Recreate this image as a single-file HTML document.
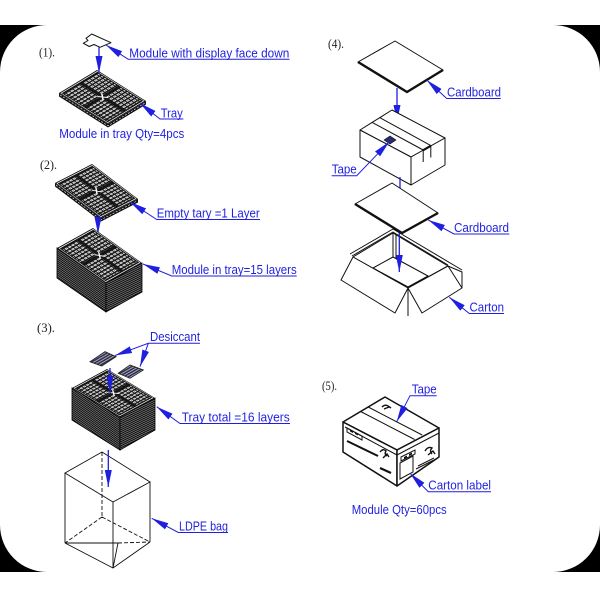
<!DOCTYPE html>
<html><head><meta charset="utf-8">
<style>
html,body{margin:0;padding:0;background:#fff;}
svg{display:block;}
.bl{font-family:"Liberation Sans",Arial,sans-serif;font-size:12.5px;fill:#1f1fe0;}
.nb{font-family:"Liberation Serif",serif;font-size:13px;fill:#222;}
.ld{stroke:#1f1fe0;stroke-width:1;fill:none;}
.fa{stroke:#1f1fe0;stroke-width:1.3;fill:none;}
.ln{stroke:#111;stroke-width:1;fill:#fff;stroke-linejoin:round;}
</style></head><body>
<svg width="600" height="600" viewBox="0 0 600 600" xmlns="http://www.w3.org/2000/svg">
<defs>
<marker id="ah" viewBox="0 -4 18 8" refX="17" refY="0" markerWidth="18" markerHeight="8" markerUnits="userSpaceOnUse" orient="auto-start-reverse">
<path d="M0,-3.5 L17,0 L0,3.5 Z" fill="#1f1fe0"/>
</marker>
<pattern id="cell" width="9" height="6.5" patternUnits="userSpaceOnUse">
<rect width="9" height="6.5" fill="#151515"/>
<rect x="1.4" y="1.3" width="6.2" height="3.6" fill="#fff"/>
<rect x="3.5" y="2.4" width="2" height="1.4" fill="#333"/>
</pattern>
<g id="tt">
<rect width="100" height="100" fill="#151515"/>
<rect x="2.5" y="2.5" width="95" height="95" fill="none" stroke="#fff" stroke-width="1.3"/>
<rect x="6" y="6" width="41" height="41" fill="url(#cell)"/>
<rect x="53" y="6" width="41" height="41" fill="url(#cell)"/>
<rect x="6" y="53" width="41" height="41" fill="url(#cell)"/>
<rect x="53" y="53" width="41" height="41" fill="url(#cell)"/>
<path d="M44,44 L56,56 M56,44 L44,56" stroke="#fff" stroke-width="2.5"/>
</g>
<pattern id="pl" width="8" height="2" patternUnits="userSpaceOnUse" patternTransform="skewY(35)">
<rect width="8" height="2" fill="#0d0d0d"/><rect y="1.4" width="8" height="0.5" fill="#c8c8c8"/>
</pattern>
<pattern id="pr" width="8" height="2" patternUnits="userSpaceOnUse" patternTransform="skewY(-26)">
<rect width="8" height="2" fill="#0d0d0d"/><rect y="1.4" width="8" height="0.5" fill="#c8c8c8"/>
</pattern>
<pattern id="hd" width="2.4" height="2.4" patternUnits="userSpaceOnUse" patternTransform="rotate(60)">
<rect width="2.4" height="2.4" fill="#2a2a44"/><rect width="1" height="2.4" fill="#a8a8c0"/>
</pattern>
</defs>

<!-- background frame -->
<rect x="0" y="25" width="600" height="547" fill="#000"/>
<rect x="0" y="25" width="600" height="547" rx="47" ry="47" fill="#fff"/>

<!-- ===== (1) ===== -->
<text class="nb" x="39" y="56.5" textLength="16" lengthAdjust="spacingAndGlyphs">(1).</text>
<path class="ln" d="M86,38.3 L91.7,34 L111,42.7 L100,47.3 L94,44.5 L89.3,46.5 L83.3,43.3 L88,40.5 Z"/>
<polygon points="59,93 59,96.5 108,127.5 146,104.5 146,101 108,124" fill="#111"/>
<path d="M60,95 L108,125.8 L145,103" stroke="#fff" stroke-width="0.6" fill="none" stroke-dasharray="2,1.5"/>
<use href="#tt" transform="matrix(0.38,-0.23,0.49,0.31,59,93)"/>
<path class="fa" d="M99,47 V73" marker-end="url(#ah)"/>
<path class="ld" d="M106,45 L128.3,59.3 H289.5" marker-start="url(#ah)"/>
<text class="bl" x="129.3" y="57.3" textLength="160" lengthAdjust="spacingAndGlyphs">Module with display face down</text>
<path class="ld" d="M140,103.3 L160,119 H183.3" marker-start="url(#ah)"/>
<text class="bl" x="160.7" y="117.3" textLength="22" lengthAdjust="spacingAndGlyphs">Tray</text>
<text class="bl" x="59.3" y="138" textLength="125" lengthAdjust="spacingAndGlyphs">Module in tray Qty=4pcs</text>

<!-- ===== (2) ===== -->
<text class="nb" x="40" y="169" textLength="17" lengthAdjust="spacingAndGlyphs">(2).</text>
<polygon points="55,183 55,186.5 101,221.5 138,202.5 138,199 101,218" fill="#111"/>
<path d="M56,185 L101,219.8 L137,201" stroke="#fff" stroke-width="0.6" fill="none" stroke-dasharray="2,1.5"/>
<use href="#tt" transform="matrix(0.37,-0.19,0.46,0.35,55,183)"/>
<path class="fa" d="M98,218 V234" marker-end="url(#ah)"/>
<polygon points="57,248 106,283 106,312 57,278" fill="url(#pl)" stroke="#000" stroke-width="0.8"/>
<polygon points="106,283 142,263 142,292 106,312" fill="url(#pr)" stroke="#000" stroke-width="0.8"/>
<use href="#tt" transform="matrix(0.36,-0.2,0.49,0.35,57,248)"/>
<path class="ld" d="M130,202 L156.7,219.5 H260" marker-start="url(#ah)"/>
<text class="bl" x="156.7" y="217.5" textLength="103" lengthAdjust="spacingAndGlyphs">Empty tary =1 Layer</text>
<path class="ld" d="M143,264 L171.7,276 H296.7" marker-start="url(#ah)"/>
<text class="bl" x="171.7" y="274" textLength="125" lengthAdjust="spacingAndGlyphs">Module in tray=15 layers</text>

<!-- ===== (3) ===== -->
<text class="nb" x="37" y="332" textLength="18" lengthAdjust="spacingAndGlyphs">(3).</text>
<polygon points="72,388 120,417 120,450 72,420" fill="url(#pl)" stroke="#000" stroke-width="0.8"/>
<polygon points="120,417 155,398 155,430 120,450" fill="url(#pr)" stroke="#000" stroke-width="0.8"/>
<use href="#tt" transform="matrix(0.35,-0.19,0.48,0.29,72,388)"/>
<polygon points="90,361.7 105,351.7 116,356.7 101.7,366" fill="url(#hd)" stroke="#222" stroke-width="0.9"/>
<polygon points="118.3,373.3 130,365 143.3,370 130,378.3" fill="url(#hd)" stroke="#222" stroke-width="0.9"/>
<path class="fa" d="M110,368 V393" marker-end="url(#ah)"/>
<path class="ld" d="M115,355.5 L148.3,343.3 H200" marker-start="url(#ah)"/>
<path class="ld" d="M140,366.7 L148.3,343.3" marker-start="url(#ah)"/>
<text class="bl" x="150" y="341" textLength="50" lengthAdjust="spacingAndGlyphs">Desiccant</text>
<path class="ld" d="M156.7,406.7 L180,423.5 H290" marker-start="url(#ah)"/>
<text class="bl" x="181.7" y="421.3" textLength="108" lengthAdjust="spacingAndGlyphs">Tray  total =16 layers</text>
<!-- bag -->
<g stroke="#111" stroke-width="0.9" fill="none">
<polygon points="65,473 102,452 150,482 113,502"/>
<path d="M65,473 V543 M113,502 V568 M150,482 V542 M65,543 L113,568 L150,542"/>
<path d="M65,543 L118,543 L113,568"/>
<path d="M102,452 V517 M102,517 L65,543 M102,517 L150,542 M118,543 L150,542" stroke-dasharray="4,2"/>
</g>
<path class="fa" d="M108.3,450 V487" marker-end="url(#ah)"/>
<path class="ld" d="M151.7,518.3 L178.3,532.5 H228" marker-start="url(#ah)"/>
<text class="bl" x="179" y="530.5" textLength="49" lengthAdjust="spacingAndGlyphs">LDPE bag</text>

<!-- ===== (4) ===== -->
<text class="nb" x="328" y="48" textLength="16" lengthAdjust="spacingAndGlyphs">(4).</text>
<!-- cardboard 1 -->
<polygon class="ln" points="358,62 395,41 443,70 407,92"/>
<path d="M358,62 L407,92 L443,70" stroke="#111" stroke-width="2.4" fill="none"/>
<path class="fa" d="M397,88 V122" marker-end="url(#ah)"/>
<path class="ld" d="M426.7,80 L446.7,98.5 H500.7" marker-start="url(#ah)"/>
<text class="bl" x="447" y="96.5" textLength="54" lengthAdjust="spacingAndGlyphs">Cardboard</text>
<!-- box with tape -->
<polygon class="ln" points="360,130 392,110 445,138 411,157"/>
<polygon class="ln" points="360,130 411,157 411,185 360,157"/>
<polygon class="ln" points="411,157 445,138 445,165 411,185"/>
<path d="M372.2,122.4 L423.2,150 M379.8,117.6 L430.8,145.6 M423.2,150 V162 M430.8,145.6 V157.5" stroke="#111" stroke-width="1" fill="none"/>
<path d="M423.2,150.2 L430.8,145.8" stroke="#111" stroke-width="2.2"/>
<polygon points="384,140 390,136 396,140 390,144" fill="#2a2a70" stroke="#111" stroke-width="0.6"/>
<path class="ld" d="M389.3,141.7 L356.7,175.7 H331.7" marker-start="url(#ah)"/>
<text class="bl" x="331.7" y="173.5" textLength="25" lengthAdjust="spacingAndGlyphs">Tape</text>
<path class="fa" d="M400,177 V210" marker-end="url(#ah)"/>
<!-- cardboard 2 -->
<polygon class="ln" points="355,204 392,183 438,213 402,233"/>
<path d="M355,204 L402,233 L438,213" stroke="#111" stroke-width="2.4" fill="none"/>
<path class="ld" d="M428.3,220 L454,234 H509.3" marker-start="url(#ah)"/>
<text class="bl" x="454" y="232" textLength="55" lengthAdjust="spacingAndGlyphs">Cardboard</text>
<!-- carton -->
<g stroke="#111" stroke-width="1" fill="#fff" stroke-linejoin="round">
<polygon points="353,257 393,233 448,266 408,288"/>
<polygon points="373,268 393,257 428,276 408,287" fill="none"/>
<path d="M393,233 V257 M396,235 V259" fill="none"/>
<path d="M350,254 L393,229 L462,270 M352,256 L393,232 L448,265" fill="none"/>
<polygon points="353,257 341,280 395,313 408,288"/>
<polygon points="408,288 422,313 462,288 448,266"/>
<path d="M448,266 L462,272 V288 M408,288 V316" fill="none"/>
</g>
<path class="fa" d="M399.3,233 V272" marker-end="url(#ah)"/>
<path class="ld" d="M449.3,297.3 L469.3,313.5 H504" marker-start="url(#ah)"/>
<text class="bl" x="469.5" y="311.3" textLength="34.5" lengthAdjust="spacingAndGlyphs">Carton</text>

<!-- ===== (5) ===== -->
<text class="nb" x="322" y="390" textLength="15" lengthAdjust="spacingAndGlyphs">(5).</text>
<g stroke="#111" stroke-width="1.5" fill="#fff" stroke-linejoin="round">
<polygon points="343,422 385,397 439,428 397,450"/>
<polygon points="343,422 397,450 397,486 343,452"/>
<polygon points="397,450 439,428 439,457 397,486"/>
</g>
<g stroke="#111" stroke-width="1" fill="none">
<path d="M345,427 L397,455 L439,433"/>
<path d="M360.6,411.5 L414.6,439.5 M368.2,407 L422.2,435"/>
<polygon points="347,428 362,436 362,440 347,432"/>
<polygon points="401,457 415,450 415,454 401,461"/>
<polygon points="400,463 413,456 413,472 400,479"/>
</g>
<g fill="#111">
<polygon points="350,429.5 353,431 353,433 350,431.5"/>
<polygon points="355,432 358,433.5 358,435.5 355,434"/>
<polygon points="404,457 407,455.5 407,457.5 404,459"/>
<polygon points="409,454 412,452.5 412,454.5 409,456"/>
</g>
<path d="M347,441 L378,456" stroke="#111" stroke-width="2"/>
<path d="M380,468 L391,473" stroke="#111" stroke-width="2.2"/>
<path d="M416,469 L436,459 M418,466 L434,458" stroke="#111" stroke-width="1"/>
<path d="M380,452 q3,-4 6,-1 q-2,3 1,5 M383,458 l4,-4 l2,3" stroke="#111" stroke-width="1.4" fill="none"/>
<path d="M425,451 q3,-5 7,-3 q-3,3 0,6 M428,455 l5,-4 l2,3" stroke="#111" stroke-width="1.4" fill="none"/>
<path d="M382,407 q3,-3 6,-1 l3,2 M384,409 l5,-2" stroke="#111" stroke-width="1.4" fill="none"/>
<path class="ld" d="M396.7,421.7 L410,395.7 H436.7" marker-start="url(#ah)"/>
<text class="bl" x="411.7" y="393.3" textLength="25" lengthAdjust="spacingAndGlyphs">Tape</text>
<path class="ld" d="M410,473.3 L428.3,491.7 H491" marker-start="url(#ah)"/>
<text class="bl" x="428.3" y="489.5" textLength="62.7" lengthAdjust="spacingAndGlyphs">Carton label</text>
<text class="bl" x="351.7" y="514" textLength="95" lengthAdjust="spacingAndGlyphs">Module Qty=60pcs</text>
</svg>
</body></html>
